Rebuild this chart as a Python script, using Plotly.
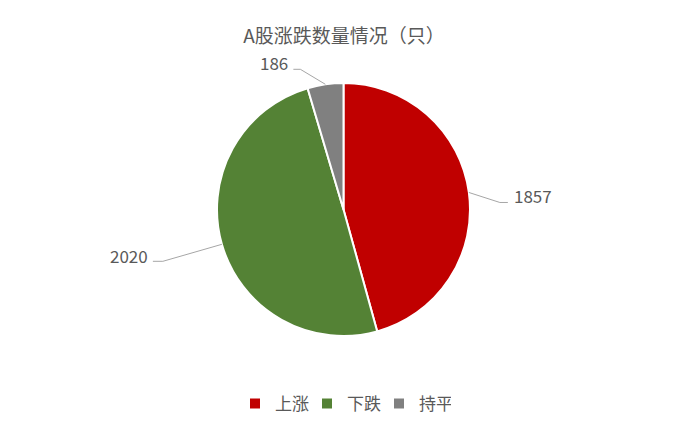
import math
import plotly.graph_objects as go

# A股涨跌数量
categories = ["上涨", "下跌", "持平"]
counts = [1857, 2020, 186]
colors = ["#C00000", "#548235", "#808080"]

W, H = 693, 431
OFF = 8                             # 页面 body 的默认边距
cx, cy, r = 343.5, 209.5, 126.5     # 饼图中心和半径（窗口像素）

def px(x, y):
    # 窗口像素 -> paper 坐标
    return (x - OFF) / W, 1 - (y - OFF) / H

(dx0, dy0), (dx1, dy1) = px(cx - r, cy + r), px(cx + r, cy - r)

fig = go.Figure(go.Pie(
    labels=categories, values=counts,
    sort=False, direction="clockwise", rotation=0,
    marker=dict(colors=colors, line=dict(color="white", width=2)),
    textinfo="none", hoverinfo="label+value+percent",
    domain=dict(x=[dx0, dx1], y=[dy0, dy1]),
))

# 数据标签的引导线：折点偏移和文字偏移（像素）
elbows = [(31, 10), (-59, 17), (-25, -15)]
tails = [8, -10, -7]
text_dy = [-7, -6, -7]

total = sum(counts)
acc = 0
for i, v in enumerate(counts):
    mid = (acc + v / 2) / total * 2 * math.pi
    acc += v
    ex, ey = cx + r * math.sin(mid), cy - r * math.cos(mid)
    bx, by = ex + elbows[i][0], ey + elbows[i][1]
    tx = bx + tails[i]
    x0, y0 = px(ex, ey)
    x1, y1 = px(bx, by)
    x2, y2 = px(tx, by)
    fig.add_shape(type="path", xref="paper", yref="paper",
                  path=f"M {x0} {y0} L {x1} {y1} L {x2} {y2}",
                  line=dict(color="#A6A6A6", width=1))
    right = tails[i] > 0
    ax, ay = px(tx + (4 if right else -3), by + text_dy[i])
    fig.add_annotation(x=ax, y=ay, xref="paper", yref="paper", text=str(v),
                       showarrow=False, xanchor="left" if right else "right", yanchor="middle",
                       font=dict(size=17, color="#595959"))

tx_, ty_ = px(344, 36)
lx_, ly_ = px(343, 404)

fig.update_layout(
    width=W, height=H,
    margin=dict(l=0, r=0, t=0, b=0),
    paper_bgcolor="white", plot_bgcolor="white",
    font=dict(family="Noto Sans CJK SC, sans-serif", color="#595959"),
    title=dict(text="A股涨跌数量情况（只）", x=tx_, xanchor="center",
               y=ty_, yanchor="middle", font=dict(size=19, color="#595959")),
    legend=dict(orientation="h", x=lx_, xanchor="center", y=ly_, yanchor="middle",
                font=dict(size=17, color="#595959"), itemwidth=30,
                entrywidth=27, entrywidthmode="pixels"),
)

fig.write_html("out.html")
